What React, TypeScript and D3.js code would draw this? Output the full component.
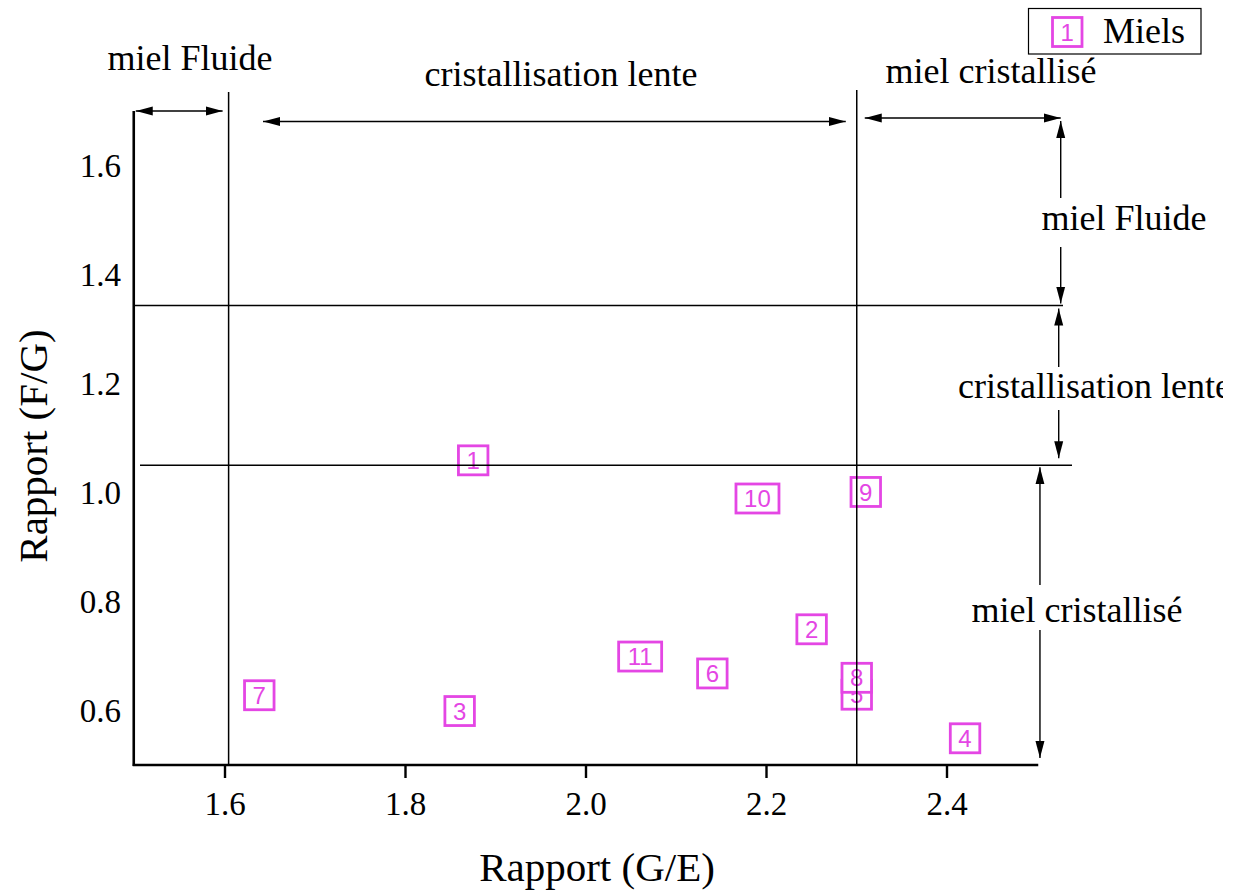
import React from 'react';
import * as d3 from 'd3';

// Honey samples: glucose/water ratio (G/E) vs fructose/glucose ratio (F/G)
const honeyIds = ['1', '2', '3', '4', '5', '6', '7', '8', '9', '10', '11'];
const ratioGE = [1.875, 2.25, 1.86, 2.42, 2.3, 2.14, 1.638, 2.3, 2.31, 2.19, 2.06];
const ratioFG = [1.059, 0.749, 0.599, 0.549, 0.629, 0.668, 0.628, 0.66, 1.001, 0.989, 0.699];

// Crystallisation thresholds
const thresholdsGE = [1.604, 2.3];
const thresholdsFG = [1.05, 1.343];

const xTicks = [1.6, 1.8, 2.0, 2.2, 2.4];
const yTicks = [0.6, 0.8, 1.0, 1.2, 1.4, 1.6];

const zoneLabels = ['miel Fluide', 'cristallisation lente', 'miel cristallisé'];
const legendLabel = 'Miels';
const xTitle = 'Rapport (G/E)';
const yTitle = 'Rapport (F/G)';

const W = 1242;
const H = 892;
const MAGENTA = '#e446e4';
const SERIF = '"Liberation Serif", "Times New Roman", serif';
const SANS = '"Liberation Sans", Arial, sans-serif';

export default function App() {
  const x = d3.scaleLinear().domain([1.5, 2.5]).range([134.75, 1037.25]);
  const y = d3.scaleLinear().domain([0.5, 1.7]).range([765, 111]);

  const x0 = x(1.5);
  const x1 = x(2.5);
  const yB = y(0.5);
  const yT = y(1.7);

  const boxW = (label: string) => 16 + 13.5 * label.length;
  const boxH = 29;

  const arrow = (key: string, xa: number, ya: number, xb: number, yb: number) => (
    <line
      key={key}
      x1={xa}
      y1={ya}
      x2={xb}
      y2={yb}
      stroke="#000"
      strokeWidth={1.4}
      markerStart="url(#head)"
      markerEnd="url(#head)"
    />
  );
  const halfArrow = (key: string, xa: number, ya: number, xb: number, yb: number) => (
    <line key={key} x1={xa} y1={ya} x2={xb} y2={yb} stroke="#000" strokeWidth={1.4} markerEnd="url(#head)" />
  );

  const xv1 = x(thresholdsGE[0]);
  const xv2 = x(thresholdsGE[1]);
  const yh1 = y(thresholdsFG[0]);
  const yh2 = y(thresholdsFG[1]);
  const xr1 = x(2.526);
  const xr2 = x(2.503);

  return (
    <svg
      width={W}
      height={H}
      style={{ position: 'absolute', left: 0, top: 0, background: '#fff' }}
      fontFamily={SERIF}
    >
      <defs>
        <marker
          id="head"
          markerUnits="userSpaceOnUse"
          viewBox="0 0 17 10"
          refX={17}
          refY={5}
          markerWidth={17}
          markerHeight={10}
          orient="auto-start-reverse"
        >
          <path d="M0,0.5 L17,5 L0,9.5 Z" fill="#000" />
        </marker>
        <clipPath id="page">
          <rect x={0} y={0} width={1223} height={H} />
        </clipPath>
      </defs>
      <rect x={0} y={0} width={W} height={H} fill="#fff" />

      <g clipPath="url(#page)">
        {/* sample boxes */}
        {honeyIds.map((id, i) => {
          const cx = x(ratioGE[i]);
          const cy = y(ratioFG[i]);
          const w = boxW(id);
          return (
            <g key={id}>
              <rect
                x={cx - w / 2}
                y={cy - boxH / 2}
                width={w}
                height={boxH}
                fill="#fff"
                stroke={MAGENTA}
                strokeWidth={2.8}
              />
              <text
                x={cx}
                y={cy + 8.6}
                textAnchor="middle"
                fontFamily={SANS}
                fontSize={24}
                fill={MAGENTA}
              >
                {id}
              </text>
            </g>
          );
        })}

        {/* threshold lines */}
        <line x1={xv1} y1={92} x2={xv1} y2={yB} stroke="#000" strokeWidth={1.5} />
        <line x1={xv2} y1={90} x2={xv2} y2={yB} stroke="#000" strokeWidth={1.5} />
        <line x1={x0} y1={yh2} x2={1063} y2={yh2} stroke="#000" strokeWidth={1.5} />
        <line x1={140} y1={yh1} x2={1072} y2={yh1} stroke="#000" strokeWidth={1.5} />

        {/* axes */}
        <line x1={x0 - 1} y1={yT} x2={x0 - 1} y2={yB + 1} stroke="#000" strokeWidth={2.6} />
        <line x1={x0 - 2} y1={yB} x2={x1 + 1} y2={yB} stroke="#000" strokeWidth={2.6} />
        {xTicks.map((t) => (
          <g key={'xt' + t}>
            <line x1={x(t)} y1={yB} x2={x(t)} y2={yB + 13} stroke="#000" strokeWidth={2.4} />
            <text x={x(t)} y={815} textAnchor="middle" fontSize={33}>
              {d3.format('.1f')(t)}
            </text>
          </g>
        ))}
        {yTicks.map((t) => (
          <text key={'yt' + t} x={121} y={y(t) + 11} textAnchor="end" fontSize={33}>
            {d3.format('.1f')(t)}
          </text>
        ))}
        <text x={597} y={881} textAnchor="middle" fontSize={41}>
          {xTitle}
        </text>
        <text transform={`translate(47,${y(1.1) + 8}) rotate(-90)`} textAnchor="middle" fontSize={41}>
          {yTitle}
        </text>

        {/* horizontal zone arrows */}
        {arrow('a1', x0 + 1, yT, xv1 - 6, yT)}
        {arrow('a2', 263, 121.5, xv2 - 11, 121.5)}
        {arrow('a3', xv2 + 8, 118, xr1, 118)}
        <text x={190} y={70} textAnchor="middle" fontSize={36}>
          {zoneLabels[0]}
        </text>
        <text x={561} y={86} textAnchor="middle" fontSize={36}>
          {zoneLabels[1]}
        </text>
        <text x={991} y={83} textAnchor="middle" fontSize={36}>
          {zoneLabels[2]}
        </text>

        {/* vertical zone arrows */}
        {halfArrow('v1a', xr1, 198, xr1, 121)}
        {halfArrow('v1b', xr1, 247, xr1, yh2 - 2)}
        <text x={1124} y={230} textAnchor="middle" fontSize={36}>
          {zoneLabels[0]}
        </text>

        {halfArrow('v2a', xr1 - 2, 367, xr1 - 2, yh2 + 3)}
        {halfArrow('v2b', xr1 - 2, 410, xr1 - 2, yh1 - 7)}
        <text x={958} y={398} textAnchor="start" fontSize={36}>
          {zoneLabels[1]}
        </text>

        {halfArrow('v3a', xr2, 585, xr2, yh1 + 2)}
        {halfArrow('v3b', xr2, 630, xr2, yB - 7)}
        <text x={1077} y={622} textAnchor="middle" fontSize={36}>
          {zoneLabels[2]}
        </text>

        {/* legend */}
        <rect x={1028.5} y={8.5} width={172.5} height={45.5} fill="#fff" stroke="#000" strokeWidth={1.2} />
        <rect x={1052.5} y={17.5} width={29.5} height={29} fill="#fff" stroke={MAGENTA} strokeWidth={2.8} />
        <text x={1067.2} y={40.6} textAnchor="middle" fontFamily={SANS} fontSize={24} fill={MAGENTA}>
          {honeyIds[0]}
        </text>
        <text x={1103} y={43} fontSize={36}>
          {legendLabel}
        </text>
      </g>
    </svg>
  );
}
